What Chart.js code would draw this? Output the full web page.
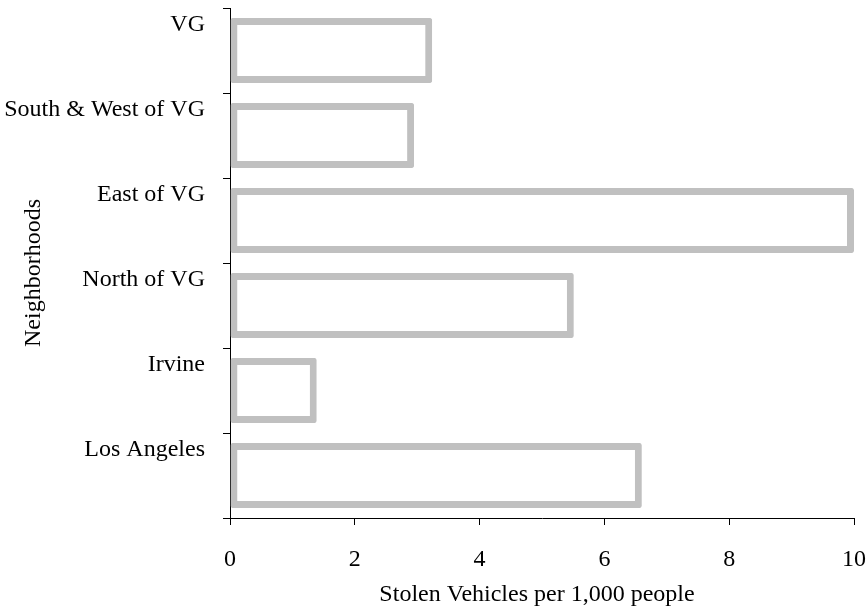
<!DOCTYPE html>
<html>
<head>
<meta charset="utf-8">
<script src="https://cdn.jsdelivr.net/npm/chart.js@4/dist/chart.umd.min.js"></script>
<style>
  html, body { margin: 0; padding: 0; background: #fff; }
  #wrap { width: 866px; height: 609px; }
</style>
</head>
<body>
<div id="wrap"><canvas id="mychart"></canvas></div>
<script>
// data
var neighborhoods = ['VG', 'South & West of VG', 'East of VG', 'North of VG', 'Irvine', 'Los Angeles'];
var stolenPer1000 = [3.24, 2.95, 10.0, 5.51, 1.39, 6.6];
var xTicks = [0, 2, 4, 6, 8, 10];

var xTitle = 'Stolen Vehicles per 1,000 people';
var yTitle = 'Neighborhoods';
var serif = 'Liberation Serif, Times New Roman, serif';

// axis titles drawn by hand so they sit where the original has them
var titlePlugin = {
  id: 'axisTitles',
  afterDraw: function(chart) {
    var ctx = chart.ctx;
    ctx.save();
    ctx.fillStyle = '#000';
    ctx.font = '24px ' + serif;
    ctx.textAlign = 'center';
    ctx.textBaseline = 'middle';
    ctx.fillText(xTitle, 537, 595);
    ctx.translate(34, 273);
    ctx.rotate(-Math.PI / 2);
    ctx.fillText(yTitle, 0, 0);
    ctx.restore();
  }
};

var ctx = document.getElementById('mychart').getContext('2d');
var chart = new Chart(ctx, {
  type: 'bar',
  data: {
    labels: neighborhoods,
    datasets: [{
      data: stolenPer1000,
      backgroundColor: '#ffffff',
      borderColor: '#c0c0c0',
      borderWidth: 7,
      borderRadius: 2,
      borderSkipped: false,
      barPercentage: 0.765,
      categoryPercentage: 1
    }]
  },
  options: {
    indexAxis: 'y',
    responsive: true,
    maintainAspectRatio: false,
    animation: false,
    layout: { padding: { top: 8, right: 12, bottom: 0, left: 0 } },
    plugins: {
      legend: { display: false },
      tooltip: { enabled: false }
    },
    scales: {
      x: {
        min: 0,
        max: 10,
        afterBuildTicks: function(s) { s.ticks = xTicks.map(function(v) { return { value: v }; }); },
        grid: { drawOnChartArea: false, tickLength: 7, color: '#000' },
        border: { color: '#000', width: 1 },
        ticks: { color: '#000', font: { family: serif, size: 24 }, padding: 20, maxRotation: 0 },
        afterFit: function(s) {
          s.height = 91;
          s.paddingLeft = 0; s.paddingRight = 0;
        }
      },
      y: {
        offset: true,
        grid: { offset: true, drawOnChartArea: false, tickLength: 7, color: '#000' },
        border: { color: '#000', width: 1 },
        ticks: { color: '#000', font: { family: serif, size: 24 }, padding: 18, labelOffset: -25.5 },
        afterFit: function(s) {
          s.width = 230;
          s.paddingTop = 0; s.paddingBottom = 0;
        }
      }
    }
  },
  plugins: [titlePlugin]
});
</script>
</body>
</html>
